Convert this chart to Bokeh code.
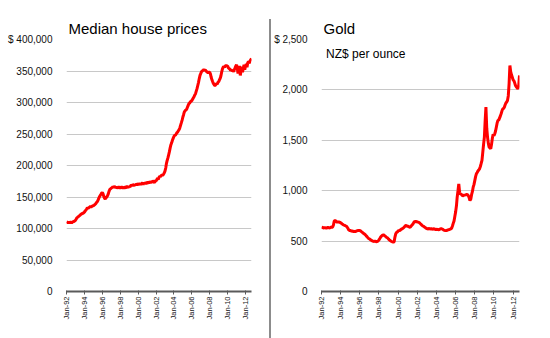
import pandas as pd
from bokeh.plotting import figure
from bokeh.models import (Range1d, FixedTicker, DatetimeTickFormatter,
                          NumeralTickFormatter, Label, Div)
from bokeh.layouts import row
from bokeh.embed import file_html
from bokeh.resources import INLINE

# ---------------- data ----------------
start_month = "1992-01-01"
tick_years = [1992, 1994, 1996, 1998, 2000, 2002, 2004, 2006, 2008, 2010, 2012]

# Median house prices (NZ$), monthly Jan-92 .. Sep-12, in thousands
house_k = [
    111, 110, 109, 110, 109, 110, 110, 109, 110, 111, 111, 112,   # 1992
    113, 115, 117, 118, 119, 120, 121, 122, 123, 124, 124, 125,   # 1993
    126, 128, 129, 131, 133, 132, 133, 134, 135, 134, 135, 136,   # 1994
    136, 137, 138, 139, 141, 142, 144, 147, 150, 152, 154, 156,   # 1995
    157, 155, 151, 148, 147, 149, 150, 152, 155, 159, 162, 163,   # 1996
    164, 165, 166, 165, 167, 166, 165, 166, 164, 165, 166, 165,   # 1997
    164, 165, 166, 165, 164, 166, 165, 164, 166, 167, 166, 165,   # 1998
    167, 166, 168, 169, 168, 170, 169, 168, 170, 169, 171, 170,   # 1999
    170, 171, 169, 172, 170, 171, 173, 170, 172, 171, 173, 172,   # 2000
    172, 174, 173, 172, 175, 173, 174, 173, 176, 174, 173, 175,   # 2001
    176, 177, 180, 178, 181, 183, 182, 184, 185, 184, 186, 188,   # 2002
    191, 196, 203, 208, 212, 217, 222, 228, 233, 236, 240, 243,   # 2003
    246, 248, 248, 250, 252, 253, 255, 257, 260, 264, 268, 272,   # 2004
    277, 281, 285, 287, 288, 289, 292, 295, 298, 299, 301, 302,   # 2005
    303, 305, 307, 309, 312, 314, 318, 322, 327, 332, 338, 343,   # 2006
    346, 349, 350, 351, 352, 351, 352, 350, 349, 348, 347, 348,   # 2007
    348, 345, 340, 336, 333, 330, 328, 327, 328, 330, 329, 332,   # 2008
    333, 336, 338, 342, 348, 353, 356, 357, 356, 358, 359, 358,   # 2009
    358, 355, 354, 353, 351, 352, 350, 351, 349, 352, 355, 358,   # 2010
    360, 354, 346, 352, 358, 343, 350, 357, 348, 354, 360, 352,   # 2011
    358, 361, 356, 363, 365, 362, 366, 368, 370,                  # 2012
]
house_prices = [v * 1000 for v in house_k]

# Gold, NZ$ per ounce, monthly Jan-92 .. Sep-12
gold_prices = [
    640, 636, 632, 630, 634, 631, 628, 632, 636, 633, 630, 634,   # 1992
    638, 636, 640, 660, 700, 705, 698, 690, 688, 692, 686, 688,   # 1993
    680, 676, 670, 664, 660, 656, 652, 648, 640, 628, 612, 606,   # 1994
    605, 602, 598, 600, 596, 594, 598, 596, 600, 604, 606, 604,   # 1995
    606, 600, 594, 588, 580, 574, 570, 562, 552, 544, 534, 526,   # 1996
    522, 516, 510, 506, 500, 498, 497, 500, 496, 494, 498, 502,   # 1997
    512, 525, 538, 548, 556, 562, 560, 554, 548, 540, 536, 530,   # 1998
    520, 512, 506, 500, 496, 492, 489, 494, 540, 572, 586, 590,   # 1999
    600, 606, 604, 612, 618, 622, 628, 634, 642, 652, 656, 650,   # 2000
    648, 644, 640, 638, 646, 656, 664, 676, 690, 696, 692, 694,   # 2001
    690, 688, 686, 680, 672, 664, 656, 650, 646, 640, 634, 628,   # 2002
    624, 620, 622, 626, 618, 624, 622, 616, 620, 624, 618, 614,   # 2003
    615, 618, 614, 612, 618, 620, 624, 620, 616, 610, 606, 604,   # 2004
    605, 606, 610, 612, 614, 618, 622, 628, 650, 676, 700, 745,   # 2005
    790, 850, 936, 1000, 1068, 985, 965, 968, 955, 950, 952, 960, # 2006
    955, 962, 960, 962, 950, 930, 903, 915, 960, 990, 1035, 1060, # 2007
    1100, 1140, 1167, 1180, 1195, 1205, 1217, 1240, 1270, 1300, 1380, 1460,  # 2008
    1532, 1700, 1829, 1620, 1532, 1470, 1432, 1425, 1415, 1460, 1520, 1560,  # 2009
    1545, 1565, 1590, 1630, 1670, 1697, 1700, 1720, 1740, 1763, 1790, 1810,  # 2010
    1815, 1829, 1850, 1870, 1880, 1895, 1940, 2060, 2242, 2180, 2150, 2126,  # 2011
    2100, 2090, 2070, 2044, 2030, 2020, 2011, 2040, 2143,                    # 2012
]

house_ticks = [0, 50000, 100000, 150000, 200000, 250000, 300000, 350000, 400000]
gold_ticks = [0, 500, 1000, 1500, 2000, 2500]

house_title = "Median house prices"
gold_title = "Gold"
gold_subtitle = "NZ$ per ounce"

# ---------------- build ----------------
FONT = "Liberation Sans"
months_h = pd.date_range(start_month, periods=len(house_prices), freq="MS")
months_g = pd.date_range(start_month, periods=len(gold_prices), freq="MS")
tick_ms = [pd.Timestamp(f"{y}-01-01").timestamp() * 1000 for y in tick_years]


def style(p, yticks, top_label):
    p.outline_line_color = None
    p.xgrid.grid_line_color = None
    p.ygrid.grid_line_color = "#c8c8c8"
    p.ygrid.grid_line_width = 1
    p.title.text_font = FONT
    p.title.text_font_size = "15px"
    p.title.text_font_style = "normal"
    p.title.text_color = "#000000"
    p.title.align = "left"
    p.title.offset = 2
    p.title.standoff = 6

    xa = p.xaxis[0]
    xa.ticker = FixedTicker(ticks=tick_ms)
    fmt = "%b-%y"
    xa.formatter = DatetimeTickFormatter(years=fmt, months=fmt, days=fmt,
                                         hours=fmt, minutes=fmt)
    xa.major_label_orientation = 1.5708
    xa.major_label_text_font = FONT
    xa.major_label_text_font_size = "7.5px"
    xa.major_label_text_color = "#111111"
    xa.major_label_standoff = 2
    xa.axis_line_color = "#5a5a5a"
    xa.axis_line_width = 2
    xa.major_tick_line_color = "#5a5a5a"
    xa.major_tick_line_width = 1
    xa.major_tick_out = 3
    xa.major_tick_in = 1
    xa.minor_tick_line_color = None

    ya = p.yaxis[0]
    ya.ticker = FixedTicker(ticks=yticks)
    ya.formatter = NumeralTickFormatter(format="0,0")
    ya.major_label_overrides = {yticks[-1]: top_label}
    ya.axis_line_color = None
    ya.major_tick_line_color = None
    ya.minor_tick_line_color = None
    ya.major_label_standoff = 8
    ya.major_label_text_font = FONT
    ya.major_label_text_font_size = "10px"
    ya.major_label_text_color = "#111111"


p1 = figure(width=269, height=338, x_axis_type="datetime",
            x_range=Range1d(months_h[0], months_h[-1]),
            y_range=Range1d(0, 400000),
            min_border_left=66, min_border_right=18,
            min_border_top=39, min_border_bottom=47,
            toolbar_location=None, output_backend="svg", title=house_title)
p1.line(months_h, house_prices, line_color="#ff0000", line_width=3)
style(p1, house_ticks, "$ 400,000")

p2 = figure(width=279, height=338, x_axis_type="datetime",
            x_range=Range1d(months_g[0], months_g[-1]),
            y_range=Range1d(0, 2500),
            min_border_left=45, min_border_right=31,
            min_border_top=39, min_border_bottom=47,
            toolbar_location=None, output_backend="svg", title=gold_title)
p2.line(months_g, gold_prices, line_color="#ff0000", line_width=3)
style(p2, gold_ticks, "$ 2,500")
p2.add_layout(Label(x=pd.Timestamp("1992-06-25"), y=2360, text=gold_subtitle,
                    text_font=FONT, text_font_size="12px",
                    text_baseline="alphabetic", text_color="#000000"))

divider = Div(text="", width=2, height=319, margin=(19, 0, 0, 0),
              styles={"background-color": "#8c8c8c"})

layout = row(p1, divider, p2)
open("out.html", "w").write(file_html(layout, INLINE))
